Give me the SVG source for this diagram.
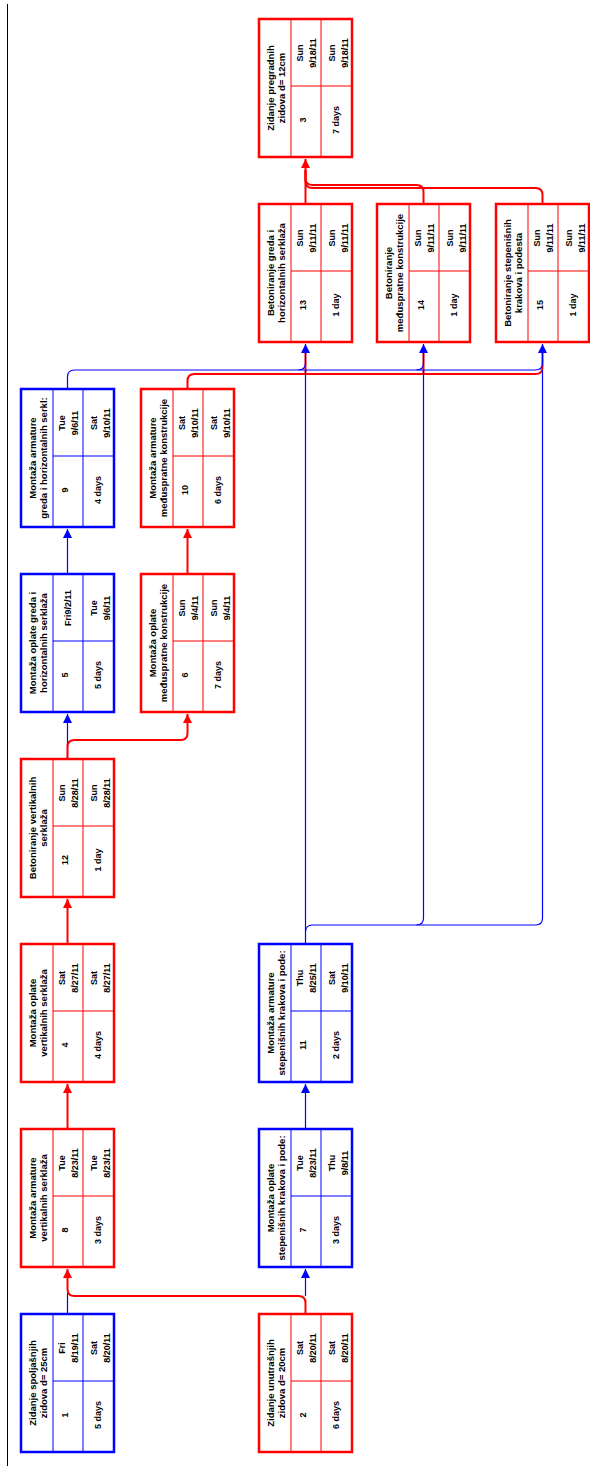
<svg xmlns="http://www.w3.org/2000/svg" width="590" height="1470" viewBox="0 0 590 1470">
<style>
.bx{fill:#fff;stroke-width:2.5}
.dv{fill:none;stroke-width:1}
.blue .bx,.blue .dv{stroke:#0000FF}
.red .bx,.red .dv{stroke:#FF0000}
text{font-family:"Liberation Sans",Arial,sans-serif;font-weight:bold;font-size:9px;text-anchor:middle;fill:#000}
.t{font-size:9.5px}
.cr{fill:none;stroke:#FF0000;stroke-width:2}
.cb{fill:none;stroke:#0000FF;stroke-width:1.2}
</style>
<defs>
<marker id="ar" viewBox="0 0 10 10" refX="10" refY="5" markerWidth="10" markerHeight="9" markerUnits="userSpaceOnUse" orient="auto"><path d="M0,0L10,5L0,10z" fill="#FF0000"/></marker>
<marker id="ab" viewBox="0 0 10 10" refX="10" refY="5" markerWidth="10" markerHeight="9" markerUnits="userSpaceOnUse" orient="auto"><path d="M0,0L10,5L0,10z" fill="#0000FF"/></marker>
</defs>
<rect width="590" height="1470" fill="#fff"/>
<path d="M7.5,4V1466" stroke="#000" stroke-width="1" fill="none"/>
<g id="connectors">
<path class="cb" d="M67.5,1314V1293" />
<path class="cr" d="M305.5,1314V1303Q305.5,1296 298.5,1296H74.5Q67.5,1296 67.5,1289V1269" marker-end="url(#ar)"/>
<path class="cb" d="M305.5,1296V1269" marker-end="url(#ab)"/>
<path class="cr" d="M67.5,1129V1084" marker-end="url(#ar)"/>
<path class="cb" d="M305.5,1129V1084" marker-end="url(#ab)"/>
<path class="cr" d="M67.5,944V899" marker-end="url(#ar)"/>
<path class="cb" d="M67.5,759V714" marker-end="url(#ab)"/>
<path class="cr" d="M67.5,759V747Q67.5,740 74.5,740H180.5Q187.5,740 187.5,733V714" marker-end="url(#ar)"/>
<path class="cb" d="M67.5,574V529" marker-end="url(#ab)"/>
<path class="cr" d="M187.5,574V529" marker-end="url(#ar)"/>
<path class="cr" d="M187.5,389V381Q187.5,374 194.5,374H535.5Q542.5,374 542.5,367V350M305.5,374V350M423.5,374V350"/>
<path class="cb" d="M67.5,389V377Q67.5,370 74.5,370H535.5Q542.5,370 542.5,363V344" marker-end="url(#ab)"/>
<path class="cb" d="M298.5,370Q305.5,370 305.5,363V344" marker-end="url(#ab)"/>
<path class="cb" d="M416.5,370Q423.5,370 423.5,363V344" marker-end="url(#ab)"/>
<path class="cb" d="M305.5,944V932Q305.5,925 312.5,925H535.5Q542.5,925 542.5,918V370"/>
<path class="cb" d="M305.5,932V370"/>
<path class="cb" d="M416.5,925Q423.5,925 423.5,918V370"/>
<path class="cr" d="M305.5,204V159" marker-end="url(#ar)"/>
<path class="cr" d="M423.5,204V192Q423.5,185 416.5,185H312.5Q305.5,185 305.5,178V170"/>
<path class="cr" d="M542.5,204V195Q542.5,188 535.5,188H312.5Q305.5,188 305.5,181V170"/>
</g>
<g id="n1" class="blue" transform="translate(21,1452) rotate(-90)">
<rect class="bx" width="138" height="93"/><path class="dv" d="M0,32H138M0,62H138M71,32V93"/>
<text class="t" x="69" y="15">Zidanje spoljašnjih</text><text class="t" x="69" y="26">zidova d= 25cm</text>
<text x="37" y="47">1</text><text x="37" y="80">5 days</text>
<text x="104" y="44">Fri</text><text x="104" y="57">8/19/11</text>
<text x="104" y="75.5">Sat</text><text x="104" y="88.5">8/20/11</text>
</g>
<g id="n2" class="red" transform="translate(259,1452) rotate(-90)">
<rect class="bx" width="138" height="93"/><path class="dv" d="M0,32H138M0,62H138M71,32V93"/>
<text class="t" x="69" y="15">Zidanje unutrašnjih</text><text class="t" x="69" y="26">zidova d= 20cm</text>
<text x="37" y="47">2</text><text x="37" y="80">6 days</text>
<text x="104" y="44">Sat</text><text x="104" y="57">8/20/11</text>
<text x="104" y="75.5">Sat</text><text x="104" y="88.5">8/20/11</text>
</g>
<g id="n8" class="red" transform="translate(21,1267) rotate(-90)">
<rect class="bx" width="138" height="93"/><path class="dv" d="M0,32H138M0,62H138M71,32V93"/>
<text class="t" x="69" y="15">Montaža armature</text><text class="t" x="69" y="26">vertikalnih serklaža</text>
<text x="37" y="47">8</text><text x="37" y="80">3 days</text>
<text x="104" y="44">Tue</text><text x="104" y="57">8/23/11</text>
<text x="104" y="75.5">Tue</text><text x="104" y="88.5">8/23/11</text>
</g>
<g id="n7" class="blue" transform="translate(259,1267) rotate(-90)">
<rect class="bx" width="138" height="93"/><path class="dv" d="M0,32H138M0,62H138M71,32V93"/>
<text class="t" x="69" y="15">Montaža oplate</text><text class="t" x="69" y="26">stepenišnih krakova i pode:</text>
<text x="37" y="47">7</text><text x="37" y="80">3 days</text>
<text x="104" y="44">Tue</text><text x="104" y="57">8/23/11</text>
<text x="104" y="75.5">Thu</text><text x="104" y="88.5">9/8/11</text>
</g>
<g id="n4" class="red" transform="translate(21,1082) rotate(-90)">
<rect class="bx" width="138" height="93"/><path class="dv" d="M0,32H138M0,62H138M71,32V93"/>
<text class="t" x="69" y="15">Montaža oplate</text><text class="t" x="69" y="26">vertikalnih serklaža</text>
<text x="37" y="47">4</text><text x="37" y="80">4 days</text>
<text x="104" y="44">Sat</text><text x="104" y="57">8/27/11</text>
<text x="104" y="75.5">Sat</text><text x="104" y="88.5">8/27/11</text>
</g>
<g id="n11" class="blue" transform="translate(259,1082) rotate(-90)">
<rect class="bx" width="138" height="93"/><path class="dv" d="M0,32H138M0,62H138M71,32V93"/>
<text class="t" x="69" y="15">Montaža armature</text><text class="t" x="69" y="26">stepenišnih krakova i pode:</text>
<text x="37" y="47">11</text><text x="37" y="80">2 days</text>
<text x="104" y="44">Thu</text><text x="104" y="57">8/25/11</text>
<text x="104" y="75.5">Sat</text><text x="104" y="88.5">9/10/11</text>
</g>
<g id="n12" class="red" transform="translate(21,897) rotate(-90)">
<rect class="bx" width="138" height="93"/><path class="dv" d="M0,32H138M0,62H138M71,32V93"/>
<text class="t" x="69" y="15">Betoniranje vertikalnih</text><text class="t" x="69" y="26">serklaža</text>
<text x="37" y="47">12</text><text x="37" y="80">1 day</text>
<text x="104" y="44">Sun</text><text x="104" y="57">8/28/11</text>
<text x="104" y="75.5">Sun</text><text x="104" y="88.5">8/28/11</text>
</g>
<g id="n5" class="blue" transform="translate(21,712) rotate(-90)">
<rect class="bx" width="138" height="93"/><path class="dv" d="M0,32H138M0,62H138M71,32V93"/>
<text class="t" x="69" y="15">Montaža oplate greda i</text><text class="t" x="69" y="26">horizontalnih serklaža</text>
<text x="37" y="47">5</text><text x="37" y="80">5 days</text>
<text x="104" y="50">Fri9/2/11</text>
<text x="104" y="75.5">Tue</text><text x="104" y="88.5">9/6/11</text>
</g>
<g id="n6" class="red" transform="translate(141,712) rotate(-90)">
<rect class="bx" width="138" height="93"/><path class="dv" d="M0,32H138M0,62H138M71,32V93"/>
<text class="t" x="69" y="15">Montaža oplate</text><text class="t" x="69" y="26">međuspratne konstrukcije</text>
<text x="37" y="47">6</text><text x="37" y="80">7 days</text>
<text x="104" y="44">Sun</text><text x="104" y="57">9/4/11</text>
<text x="104" y="75.5">Sun</text><text x="104" y="88.5">9/4/11</text>
</g>
<g id="n9" class="blue" transform="translate(21,527) rotate(-90)">
<rect class="bx" width="138" height="93"/><path class="dv" d="M0,32H138M0,62H138M71,32V93"/>
<text class="t" x="69" y="15">Montaža armature</text><text class="t" x="69" y="26">greda i horizontalnih serkl:</text>
<text x="37" y="47">9</text><text x="37" y="80">4 days</text>
<text x="104" y="44">Tue</text><text x="104" y="57">9/6/11</text>
<text x="104" y="75.5">Sat</text><text x="104" y="88.5">9/10/11</text>
</g>
<g id="n10" class="red" transform="translate(141,527) rotate(-90)">
<rect class="bx" width="138" height="93"/><path class="dv" d="M0,32H138M0,62H138M71,32V93"/>
<text class="t" x="69" y="15">Montaža armature</text><text class="t" x="69" y="26">međuspratne konstrukcije</text>
<text x="37" y="47">10</text><text x="37" y="80">6 days</text>
<text x="104" y="44">Sat</text><text x="104" y="57">9/10/11</text>
<text x="104" y="75.5">Sat</text><text x="104" y="88.5">9/10/11</text>
</g>
<g id="n13" class="red" transform="translate(259,342) rotate(-90)">
<rect class="bx" width="138" height="93"/><path class="dv" d="M0,32H138M0,62H138M71,32V93"/>
<text class="t" x="69" y="15">Betoniranje greda i</text><text class="t" x="69" y="26">horizontalnih serklaža</text>
<text x="37" y="47">13</text><text x="37" y="80">1 day</text>
<text x="104" y="44">Sun</text><text x="104" y="57">9/11/11</text>
<text x="104" y="75.5">Sun</text><text x="104" y="88.5">9/11/11</text>
</g>
<g id="n14" class="red" transform="translate(377,342) rotate(-90)">
<rect class="bx" width="138" height="93"/><path class="dv" d="M0,32H138M0,62H138M71,32V93"/>
<text class="t" x="69" y="15">Betoniranje</text><text class="t" x="69" y="26">međuspratne konstrukcije</text>
<text x="37" y="47">14</text><text x="37" y="80">1 day</text>
<text x="104" y="44">Sun</text><text x="104" y="57">9/11/11</text>
<text x="104" y="75.5">Sun</text><text x="104" y="88.5">9/11/11</text>
</g>
<g id="n15" class="red" transform="translate(496,342) rotate(-90)">
<rect class="bx" width="138" height="93"/><path class="dv" d="M0,32H138M0,62H138M71,32V93"/>
<text class="t" x="69" y="15">Betoniranje stepenišnih</text><text class="t" x="69" y="26">krakova i podesta</text>
<text x="37" y="47">15</text><text x="37" y="80">1 day</text>
<text x="104" y="44">Sun</text><text x="104" y="57">9/11/11</text>
<text x="104" y="75.5">Sun</text><text x="104" y="88.5">9/11/11</text>
</g>
<g id="n3" class="red" transform="translate(259,157) rotate(-90)">
<rect class="bx" width="138" height="93"/><path class="dv" d="M0,32H138M0,62H138M71,32V93"/>
<text class="t" x="69" y="15">Zidanje pregradnih</text><text class="t" x="69" y="26">zidova d= 12cm</text>
<text x="37" y="47">3</text><text x="37" y="80">7 days</text>
<text x="104" y="44">Sun</text><text x="104" y="57">9/18/11</text>
<text x="104" y="75.5">Sun</text><text x="104" y="88.5">9/18/11</text>
</g>
</svg>
